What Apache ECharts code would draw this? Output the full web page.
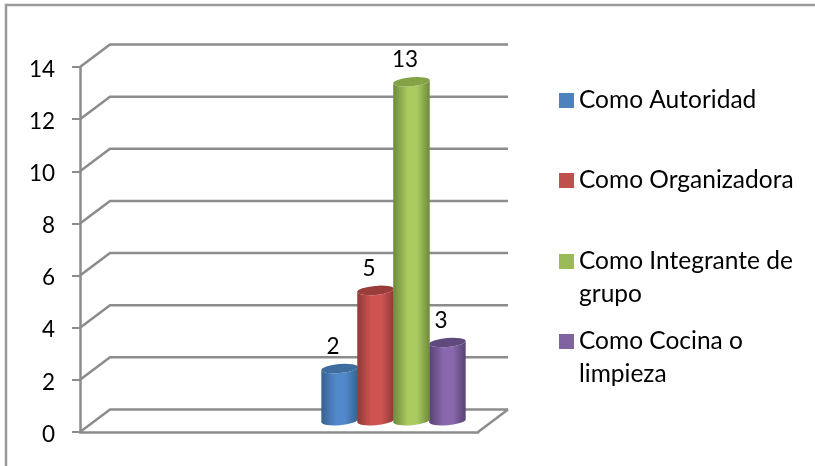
<!DOCTYPE html>
<html>
<head>
<meta charset="utf-8">
<style>
  html, body { margin: 0; padding: 0; background: #fff; }
  #chart { width: 815px; height: 466px; }
</style>
<script src="https://cdn.jsdelivr.net/npm/echarts@6/dist/echarts.min.js"></script>
</head>
<body>
<div id="chart"></div>
<script>
// first category is empty in the source chart, all the bars sit in the second one
const categories = ['', ' ']
const yTicks = [0, 2, 4, 6, 8, 10, 12, 14]
const autoridad = [null, 2]
const organizadora = [null, 5]
const integrante = [null, 13]
const cocina = [null, 3]

const fontFamily = 'Lato, "Open Sans", sans-serif'
const labelSize = 22.5
const legendSize = 24.5
const gray = '#8c8c8c'

// fake 3d: shift from the front plane to the back wall
const depthX = 30
const depthY = -22.5
const barWidthRatio = 0.1834

function cylinder(slot, edge, mid, top) {
  return function (params, api) {
    const value = api.value(1)
    if (isNaN(value)) return
    const band = api.size([1, 0])[0]
    const w = band * barWidthRatio
    const base = api.coord([api.value(0), 0])
    const peak = api.coord([api.value(0), value])
    const cx = base[0] + depthX / 2 + (slot - 1.5) * w * 0.985
    const yb = base[1] + depthY / 2
    const yt = peak[1] + depthY / 2
    const r = w / 2
    const ry = 4.5
    const tilt = 1.6
    const body = 'M' + (cx - r) + ' ' + (yt + tilt) +
      ' L' + (cx - r) + ' ' + (yb + tilt) +
      ' A' + r + ' ' + ry + ' -5 0 0 ' + (cx + r) + ' ' + (yb - tilt) +
      ' L' + (cx + r) + ' ' + (yt - tilt) +
      ' A' + r + ' ' + ry + ' -5 0 1 ' + (cx - r) + ' ' + (yt + tilt) + ' Z'
    const cap = 'M' + (cx - r) + ' ' + (yt + tilt) +
      ' A' + r + ' ' + ry + ' -5 0 1 ' + (cx + r) + ' ' + (yt - tilt) +
      ' A' + r + ' ' + ry + ' -5 0 1 ' + (cx - r) + ' ' + (yt + tilt) + ' Z'
    return {
      type: 'group',
      children: [
        {
          type: 'path',
          shape: { pathData: body },
          style: {
            fill: new echarts.graphic.LinearGradient(0, 0, 1, 0, [
              { offset: 0, color: edge },
              { offset: 0.4, color: mid },
              { offset: 0.65, color: mid },
              { offset: 1, color: edge }
            ])
          }
        },
        { type: 'path', shape: { pathData: cap }, style: { fill: top } },
        {
          type: 'text',
          style: {
            text: String(value),
            x: cx - 6.5,
            y: yt - 22,
            align: 'center',
            verticalAlign: 'middle',
            fontFamily: fontFamily,
            fontSize: labelSize,
            fill: '#000'
          }
        }
      ]
    }
  }
}

// back wall lines + the slanted piece going to the front axis
function wallLine(params, api) {
  const front = api.coord([0, api.value(0)])
  const size = api.size([1, 0])[0] * categories.length
  const x0 = front[0] - api.size([1, 0])[0] / 2
  const y0 = front[1]
  const children = [{
    type: 'polyline',
    shape: { points: [[x0, y0], [x0 + depthX, y0 + depthY], [x0 + depthX + size, y0 + depthY]] },
    style: { stroke: gray, lineWidth: 2.5, fill: null }
  }]
  if (api.value(0) === 0) {
    children.push({
      type: 'line',
      shape: { x1: x0 + size, y1: y0, x2: x0 + size + depthX, y2: y0 + depthY },
      style: { stroke: gray, lineWidth: 2.5 }
    })
  }
  return { type: 'group', children: children }
}

function barSeries(name, values, slot, color, edge, mid, top) {
  return {
    name: name,
    type: 'custom',
    z: slot === 2 ? 5 : 4,
    itemStyle: { color: color },
    encode: { x: 0, y: 1 },
    data: values.map((v, i) => [i, v === null ? NaN : v]),
    renderItem: cylinder(slot, edge, mid, top)
  }
}

// the text block is centred on the swatch, so a blank first line keeps
// the swatch level with the first real line on the wrapped entries
function legendEntry(name, top, wrapped) {
  return {
    data: [name],
    left: 559,
    top: top,
    padding: 0,
    orient: 'vertical',
    itemWidth: 15,
    itemHeight: 15,
    icon: 'rect',
    selectedMode: false,
    formatter: wrapped ? '\n' + wrapped : undefined,
    textStyle: {
      fontFamily: fontFamily,
      fontSize: legendSize,
      color: '#000',
      lineHeight: 33
    }
  }
}

const chart = echarts.init(document.getElementById('chart'), null, { renderer: 'canvas' })
chart.setOption({
  animation: false,
  backgroundColor: '#fff',
  graphic: [{
    type: 'rect',
    shape: { x: 6, y: 5, width: 830, height: 500 },
    style: { stroke: '#9a9a9a', lineWidth: 2.5, fill: null },
    silent: true
  }],
  grid: { left: 80, top: 67, width: 398, height: 365 },
  xAxis: {
    type: 'category',
    data: categories,
    axisLine: { show: true, lineStyle: { color: gray, width: 2.5 } },
    axisTick: { show: false },
    axisLabel: { show: false }
  },
  yAxis: {
    type: 'value',
    min: 0,
    max: 14,
    interval: 2,
    splitLine: { show: false },
    axisLine: { show: true, lineStyle: { color: gray, width: 2.5 } },
    axisTick: { show: true, length: 8, lineStyle: { color: gray, width: 2 } },
    axisLabel: {
      margin: 25,
      formatter: '{v|{value}}',
      rich: {
        v: { padding: [5, 0, 0, 0], color: '#000', fontFamily: fontFamily, fontSize: labelSize }
      }
    }
  },
  legend: [
    legendEntry('Como Autoridad', 84),
    legendEntry('Como Organizadora', 164),
    legendEntry('Como Integrante de grupo', 212, 'Como Integrante de\ngrupo'),
    legendEntry('Como Cocina o limpieza', 292, 'Como Cocina o\nlimpieza')
  ],
  series: [
    {
      type: 'custom',
      silent: true,
      z: 1,
      encode: { y: 0 },
      data: yTicks.map(v => [v]),
      renderItem: wallLine
    },
    barSeries('Como Autoridad', autoridad, 0, '#4f81bd', '#37618f', '#5289cc', '#3f6c9e'),
    barSeries('Como Organizadora', organizadora, 1, '#c0504d', '#8f3a38', '#d05552', '#993d3b'),
    barSeries('Como Integrante de grupo', integrante, 2, '#9bbb59', '#6d8a3b', '#a9cb60', '#84a347'),
    barSeries('Como Cocina o limpieza', cocina, 3, '#8064a2', '#574273', '#8a68ae', '#5f4a80')
  ]
})
</script>
</body>
</html>
